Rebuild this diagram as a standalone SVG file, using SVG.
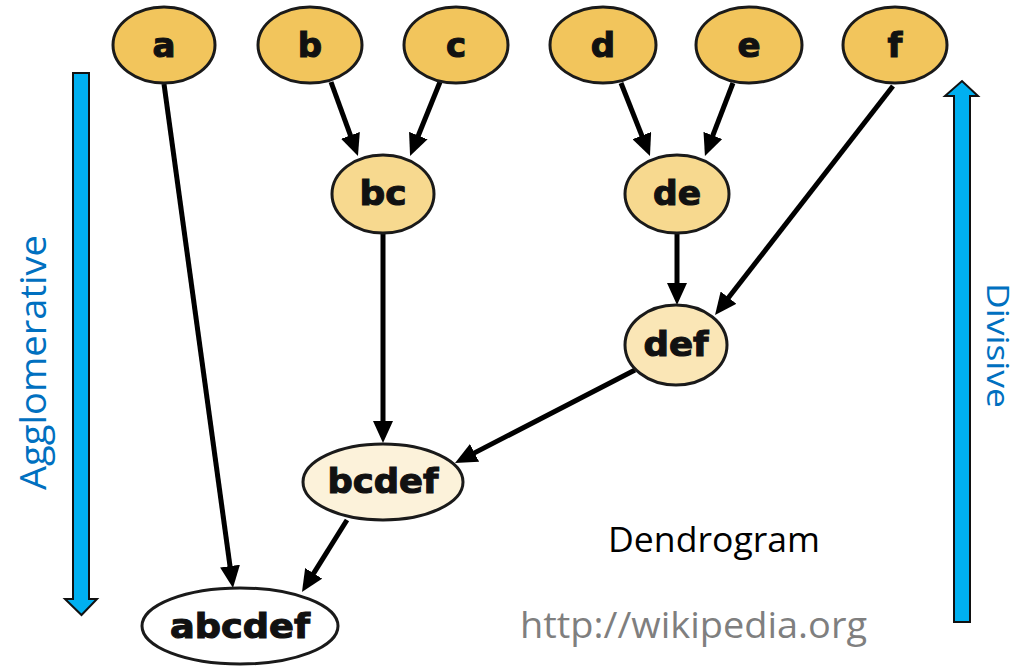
<svg xmlns="http://www.w3.org/2000/svg" width="1019" height="666" viewBox="0 0 1019 666">
  <style>
    .node ellipse { stroke: #1a1a1a; stroke-width: 3; }
    .leaf ellipse { fill: #F2C55C; }
    .lvl1 ellipse { fill: #F7D98F; }
    .lvl2 ellipse { fill: #FAE6B6; }
    .lvl3 ellipse { fill: #FCF2DA; }
    .root ellipse { fill: #FFFFFF; }
    .node text { font-family: "DejaVu Sans", "Liberation Sans", sans-serif; font-weight: bold; font-size: 34px; fill: #111; text-anchor: middle; stroke: #111; stroke-width: 1.1; }
    .edge { stroke: #000; stroke-width: 5; fill: none; marker-end: url(#head); }
    .flow { fill: #00B0F0; stroke: #111; stroke-width: 2; stroke-linejoin: miter; }
    .side { font-family: "Open Sans", "Liberation Sans", sans-serif; fill: #0070C0; }
    .caption { font-family: "Open Sans", "Liberation Sans", sans-serif; }
  </style>
  <defs>
    <marker id="head" viewBox="0 0 22 20" refX="11" refY="10" markerWidth="22" markerHeight="20" markerUnits="userSpaceOnUse" orient="auto">
      <path d="M0,0 L22,10 L0,20 z" fill="#000"/>
    </marker>
  </defs>
  <rect width="1019" height="666" fill="#FFFFFF"/>

  <!-- direction arrows -->
  <polygon class="flow" points="73,73 89,73 89,599 97,599 81.5,615 65,599 73,599"/>
  <polygon class="flow" points="954,622 970,622 970,96 978,96 962,81 945,96 954,96"/>
  <text class="side" font-size="36" transform="translate(46,490) rotate(-90)" textLength="255" lengthAdjust="spacingAndGlyphs">Agglomerative</text>
  <text class="side" font-size="31" transform="translate(987,283) rotate(90)" textLength="125" lengthAdjust="spacingAndGlyphs">Divisive</text>

  <!-- connectors -->
  <g id="connectors">
    <line class="edge" x1="164" y1="84" x2="231.5" y2="577"/>
    <line class="edge" x1="331" y1="82" x2="354.2" y2="145.7"/>
    <line class="edge" x1="440" y1="82" x2="414.2" y2="145.8"/>
    <line class="edge" x1="621" y1="83" x2="645.9" y2="145.8"/>
    <line class="edge" x1="733" y1="83" x2="708.9" y2="145.7"/>
    <line class="edge" x1="893" y1="86" x2="721.8" y2="306.3"/>
    <line class="edge" x1="677" y1="233" x2="677" y2="294"/>
    <line class="edge" x1="383" y1="233" x2="383" y2="432"/>
    <line class="edge" x1="635" y1="370" x2="464.8" y2="457.9"/>
    <line class="edge" x1="347" y1="520" x2="307.8" y2="582.7"/>
  </g>

  <!-- leaves -->
  <g id="node-a" class="node leaf"><ellipse cx="164" cy="45" rx="51" ry="38"/><text x="164" y="57">a</text></g>
  <g id="node-b" class="node leaf"><ellipse cx="310" cy="45" rx="52" ry="38"/><text x="310" y="57">b</text></g>
  <g id="node-c" class="node leaf"><ellipse cx="456" cy="45" rx="52" ry="38"/><text x="456" y="57">c</text></g>
  <g id="node-d" class="node leaf"><ellipse cx="603" cy="45" rx="53" ry="38"/><text x="603" y="57">d</text></g>
  <g id="node-e" class="node leaf"><ellipse cx="749" cy="45" rx="53" ry="38"/><text x="749" y="57">e</text></g>
  <g id="node-f" class="node leaf"><ellipse cx="895" cy="45" rx="52" ry="38"/><text x="895" y="57">f</text></g>

  <!-- merged clusters -->
  <g id="node-bc" class="node lvl1"><ellipse cx="383" cy="194" rx="51" ry="39"/><text x="383" y="205" textLength="47" lengthAdjust="spacingAndGlyphs">bc</text></g>
  <g id="node-de" class="node lvl1"><ellipse cx="677" cy="194" rx="52" ry="39"/><text x="677" y="205" textLength="48" lengthAdjust="spacingAndGlyphs">de</text></g>
  <g id="node-def" class="node lvl2"><ellipse cx="676" cy="345" rx="51" ry="40"/><text x="676" y="356" textLength="65" lengthAdjust="spacingAndGlyphs">def</text></g>
  <g id="node-bcdef" class="node lvl3"><ellipse cx="383" cy="482" rx="80" ry="38"/><text x="383" y="493" textLength="111" lengthAdjust="spacingAndGlyphs">bcdef</text></g>
  <g id="node-abcdef" class="node root"><ellipse cx="240" cy="626" rx="98" ry="38"/><text x="240" y="638" textLength="140" lengthAdjust="spacingAndGlyphs">abcdef</text></g>

  <!-- captions -->
  <text class="caption" x="608" y="552" font-size="35" fill="#000" textLength="212" lengthAdjust="spacingAndGlyphs">Dendrogram</text>
  <text class="caption" x="520" y="638" font-size="36" fill="#7F7F7F" textLength="347" lengthAdjust="spacingAndGlyphs">http://wikipedia.org</text>
</svg>
